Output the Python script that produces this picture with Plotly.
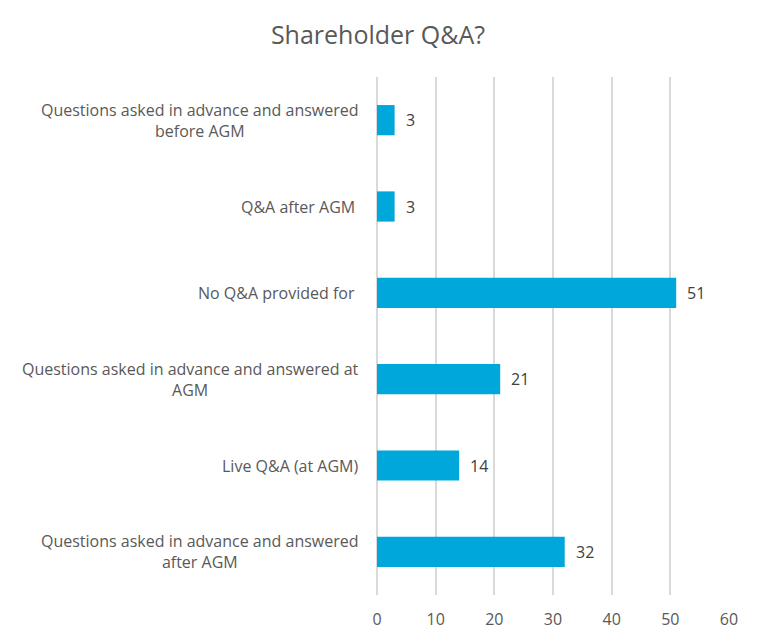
import plotly.graph_objects as go

categories = [
    "Questions asked in advance and answered<br>before AGM",
    "Q&A after AGM ",
    "No Q&A provided for ",
    "Questions asked in advance and answered at<br>AGM",
    "Live Q&A (at AGM)",
    "Questions asked in advance and answered<br>after AGM",
]
values = [3, 3, 51, 21, 14, 32]
x_ticks = [0, 10, 20, 30, 40, 50, 60]

BAR = "#00A7DA"
TXT = "#595959"
GRID = "#D9D9D9"
FONT = "Open Sans"

fig = go.Figure(go.Bar(
    x=values, y=categories, orientation="h",
    marker=dict(color=BAR, line=dict(width=0)),
    hoverinfo="skip",
))

annotations = []
for c, v in zip(categories, values):
    annotations.append(dict(x=v, y=c, xref="x", yref="y", text=str(v),
                            showarrow=False, xanchor="left", xshift=9,
                            font=dict(family=FONT, size=16, color="#404040")))
    annotations.append(dict(x=0, y=c, xref="paper", yref="y", text=c,
                            showarrow=False, xanchor="right", align="center",
                            xshift=-16,
                            font=dict(family=FONT, size=16, color=TXT)))

fig.update_layout(
    width=761, height=644,
    margin=dict(l=377, r=32, t=77, b=49),
    paper_bgcolor="white", plot_bgcolor="white",
    bargap=0.65,
    showlegend=False,
    title=dict(text="Shareholder Q&A?", x=378 / 761, xanchor="center", xref="container",
               y=1 - 35 / 644, yanchor="middle", yref="container",
               font=dict(family=FONT, size=25, color=TXT)),
    xaxis=dict(range=[0, 60], tickvals=x_ticks, showgrid=True, gridcolor=GRID,
               gridwidth=1.5, zeroline=True, zerolinecolor=GRID, zerolinewidth=1.5,
               showline=False, ticks="", ticklabelstandoff=13,
               tickfont=dict(family=FONT, size=16, color=TXT)),
    yaxis=dict(autorange="reversed", showticklabels=False, showgrid=False,
               zeroline=False, showline=False, ticks=""),
    annotations=annotations,
)

fig.write_html("out.html", config={"displayModeBar": False},
               post_script="document.body.style.margin='0px';")
